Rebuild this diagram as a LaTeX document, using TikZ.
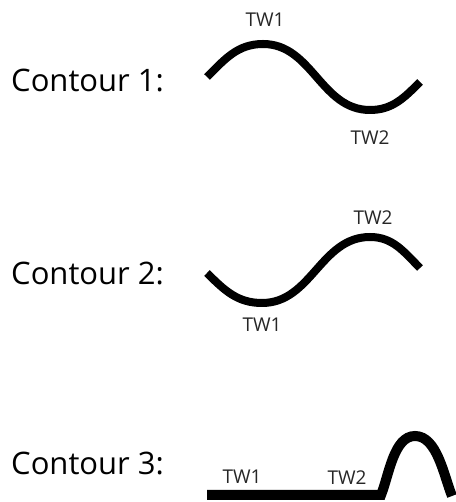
\documentclass[tikz,border=0pt]{standalone}
\usepackage{fontspec}
\setmainfont{Open Sans}
\usepackage{tikz}
\usetikzlibrary{positioning}

\begin{document}
\begin{tikzpicture}[x=1pt,y=1pt,
   contour/.style={draw,line width=8pt},
   flat/.style={draw,line width=10pt},
   title/.style={anchor=base west,inner sep=0pt,font=\fontsize{31}{31}\selectfont},
   tw/.style={inner sep=0pt,text=black!85,font=\fontsize{19}{19}\selectfont}]
   \useasboundingbox (0,0) rectangle (455,502);
   % titles
   \node[title] (t1) at (11,410) {Contour 1:};
   \node[title] (t2) at (11,217) {Contour 2:};
   \node[title] (t3) at (11,27) {Contour 3:};
   % contour 1
   \coordinate (a1) at (207,425);
   \coordinate (a2) at (263,458);
   \coordinate (a3) at (370,392);
   \coordinate (a4) at (420,420);
   \draw[contour] (a1) to[out=45,in=180] (a2) to[out=0,in=180] (a3) to[out=0,in=-135] (a4);
   \node[tw] (tw1a) at (265,482) {TW1};
   \node[tw] (tw2a) at (370,364) {TW2};
   % contour 2
   \coordinate (b1) at (207,229);
   \coordinate (b2) at (262,199);
   \coordinate (b3) at (370,265);
   \coordinate (b4) at (420,234);
   \draw[contour] (b1) to[out=-45,in=180] (b2) to[out=0,in=180] (b3) to[out=0,in=135] (b4);
   \node[tw] (tw2b) at (373,284) {TW2};
   \node[tw] (tw1b) at (262,177) {TW1};
   % contour 3
   \coordinate (c1) at (207,7);
   \coordinate (c2) at (381,7);
   \coordinate (c3) at (415,66);
   \coordinate (c4) at (452,6);
   \draw[flat] (c1) -- (c2) to[out=68,in=180,looseness=0.8] (c3) to[out=0,in=112,looseness=0.8] (c4);
   \node[tw] (tw1c) at (242,25) {TW1};
   \node[tw] (tw2c) at (347,24) {TW2};
\end{tikzpicture}
\end{document}
